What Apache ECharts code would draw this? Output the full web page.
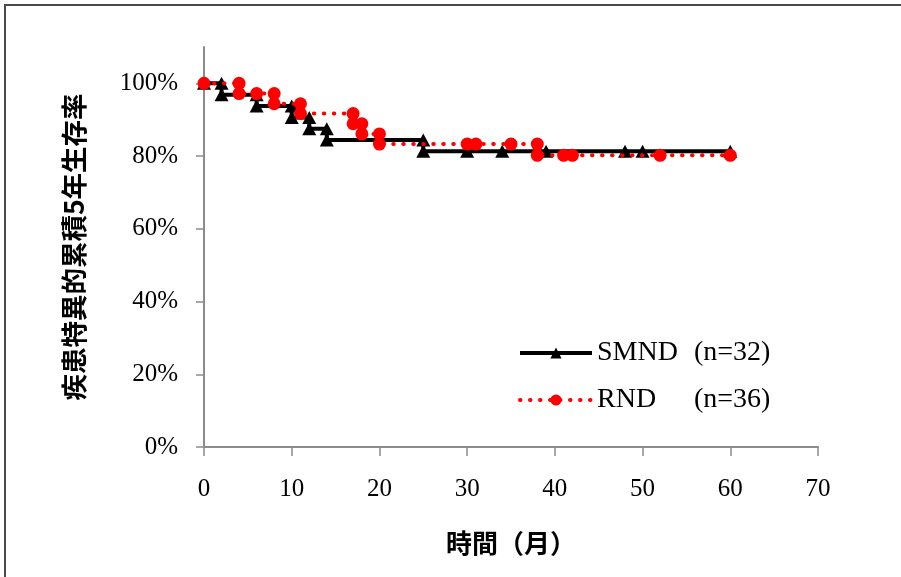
<!DOCTYPE html>
<html>
<head>
<meta charset="utf-8">
<script src="https://cdn.jsdelivr.net/npm/echarts@6/dist/echarts.min.js"></script>
<style>
  html, body { margin: 0; padding: 0; background: #fff; }
  #chart { width: 901px; height: 577px; }
</style>
</head>
<body>
<div id="chart"></div>
<script>
// Kaplan–Meier step curves: each drop is stored as two points (before / after)
const smndTimes  = [0, 2, 2, 6, 6, 10, 10, 12, 12, 14, 14, 25, 25, 30, 34, 39, 48, 50, 60];
const smndValues = [100, 100, 96.9, 96.9, 93.8, 93.8, 90.6, 90.6, 87.5, 87.5, 84.4, 84.4, 81.3, 81.3, 81.3, 81.3, 81.3, 81.3, 81.3];

const rndTimes  = [0, 4, 4, 6, 8, 8, 11, 11, 17, 17, 18, 18, 20, 20, 30, 31, 35, 38, 38, 41, 42, 52, 60];
const rndValues = [100, 100, 97.2, 97.2, 97.2, 94.4, 94.4, 91.7, 91.7, 88.9, 88.9, 86.1, 86.1, 83.3, 83.3, 83.3, 83.3, 83.3, 80.2, 80.2, 80.2, 80.2, 80.2];

const seriesNames = ['SMND', 'RND'];
const seriesCounts = [32, 36];

const xTicks = [0, 10, 20, 30, 40, 50, 60, 70];
const yTicks = [0, 20, 40, 60, 80, 100];

const yAxisTitle = '疾患特異的累積5年生存率';
const xAxisTitle = '時間（月）';

const zip = (xs, ys) => xs.map((x, i) => [x, ys[i]]);

const serif = '"Liberation Serif", "DejaVu Serif", serif';
const cjk = '"Noto Sans CJK JP", "Noto Sans CJK SC", sans-serif';
const axisGray = '#8c8c8c';

const smndLine = { color: '#000', width: 4 };
const rndLine = { color: '#ff0000', width: 4, type: [0.5, 9.5], cap: 'round' };

const chart = echarts.init(document.getElementById('chart'), null, { renderer: 'canvas' });

chart.setOption({
  animation: false,
  backgroundColor: '#ffffff',
  graphic: [{
    type: 'rect',
    shape: { x: 5, y: 5, width: 1200, height: 1200 },
    style: { fill: 'none', stroke: '#4a4a4a', lineWidth: 2 },
    silent: true
  }],
  grid: {
    left: 204, right: 83, top: 47, bottom: 130,
    containLabel: false,
    outerBoundsMode: 'none'
  },
  legend: {
    orient: 'vertical',
    left: 513,
    top: 334,
    itemWidth: 72,
    itemHeight: 14,
    itemGap: 19,
    data: [
      { name: seriesNames[0], lineStyle: smndLine },
      { name: seriesNames[1], lineStyle: rndLine }
    ],
    formatter: name => `{a|${name}}{b|(n=${seriesCounts[seriesNames.indexOf(name)]})}`,
    textStyle: {
      fontFamily: serif, fontSize: 28, color: '#000', lineHeight: 28,
      rich: {
        a: { fontFamily: serif, fontSize: 28, color: '#000', width: 97 },
        b: { fontFamily: serif, fontSize: 28, color: '#000' }
      }
    }
  },
  xAxis: {
    type: 'value',
    min: 0, max: 70, interval: 10,
    name: xAxisTitle,
    nameLocation: 'middle',
    nameGap: 83,
    nameTextStyle: { fontFamily: cjk, fontSize: 26, fontWeight: 'bold', color: '#000' },
    axisLine: { show: true, lineStyle: { color: axisGray, width: 2 } },
    axisTick: { show: true, length: 9, lineStyle: { color: axisGray, width: 1.5 }, customValues: xTicks },
    axisLabel: { fontFamily: serif, fontSize: 25, color: '#000', margin: 30, customValues: xTicks },
    splitLine: { show: false }
  },
  yAxis: {
    type: 'value',
    min: 0, max: 110, interval: 20,
    name: yAxisTitle,
    nameLocation: 'middle',
    nameGap: 117,
    nameRotate: 90,
    nameTextStyle: { fontFamily: cjk, fontSize: 26.5, fontWeight: 'bold', color: '#000' },
    axisLine: { show: true, lineStyle: { color: axisGray, width: 2 } },
    axisTick: { show: true, length: 8, lineStyle: { color: axisGray, width: 1.5 }, customValues: yTicks },
    axisLabel: { fontFamily: serif, fontSize: 25, color: '#000', margin: 26, customValues: yTicks, formatter: v => v + '%' },
    splitLine: { show: false }
  },
  series: [
    {
      name: seriesNames[0],
      type: 'line',
      data: zip(smndTimes, smndValues),
      showAllSymbol: true,
      symbol: 'triangle',
      symbolSize: [14, 13],
      color: '#000',
      itemStyle: { color: '#000' },
      lineStyle: smndLine,
      z: 2
    },
    {
      name: seriesNames[1],
      type: 'line',
      data: zip(rndTimes, rndValues),
      showAllSymbol: true,
      symbol: 'circle',
      symbolSize: 13,
      color: '#ff0000',
      itemStyle: { color: '#ff0000' },
      lineStyle: rndLine,
      z: 3
    }
  ]
});
</script>
</body>
</html>
